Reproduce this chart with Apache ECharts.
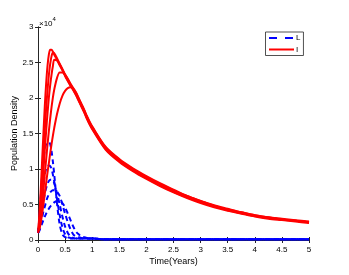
<!DOCTYPE html>
<html>
<head>
<meta charset="utf-8">
<script src="https://cdn.jsdelivr.net/npm/echarts@6/dist/echarts.min.js"></script>
<style>
html,body{margin:0;padding:0;background:#fff;}
#c{width:349px;height:275px;}
</style>
</head>
<body>
<div id="c"></div>
<script>
// Time samples (years)
const times = [0,0.025,0.05,0.075,0.1,0.125,0.15,0.175,0.2,0.225,0.25,0.275,0.3,
  0.35,0.4,0.45,0.5,0.55,0.6,0.65,0.7,0.75,0.8,0.85,0.9,0.95,1.0,
  1.25,1.5,1.75,2.0,2.25,2.5,2.75,3.0,3.25,3.5,3.75,4.0,4.25,4.5,4.75,5.0];

// Population density, in units of 10^4 (the axis carries the x10^4 factor)
const I1 = [0.10,0.35,0.70,1.10,1.50,1.88,2.20,2.45,2.61,2.68,2.68,2.65,2.61,
  2.54,2.46,2.39,2.31,2.24,2.17,2.11,2.04,1.96,1.88,1.80,1.71,1.63,1.56,
  1.27,1.10,0.97,0.86,0.76,0.67,0.59,0.52,0.46,0.41,0.37,0.33,0.30,0.28,0.26,0.24];
const I2 = [0.10,0.28,0.55,0.88,1.22,1.55,1.85,2.10,2.32,2.48,2.59,2.64,2.63,
  2.56,2.48,2.40,2.32,2.25,2.18,2.12,2.05,1.97,1.89,1.81,1.72,1.64,1.57,
  1.28,1.11,0.98,0.87,0.77,0.68,0.60,0.53,0.47,0.42,0.38,0.34,0.31,0.29,0.27,0.25];
const I3 = [0.10,0.22,0.42,0.68,0.97,1.26,1.53,1.78,2.00,2.18,2.33,2.45,2.54,
  2.53,2.48,2.41,2.33,2.26,2.19,2.13,2.06,1.98,1.90,1.82,1.73,1.65,1.58,
  1.29,1.12,0.99,0.88,0.78,0.69,0.61,0.54,0.48,0.43,0.38,0.34,0.31,0.29,0.27,0.25];
const I4 = [0.10,0.18,0.32,0.50,0.70,0.92,1.13,1.34,1.53,1.71,1.87,2.01,2.12,
  2.28,2.36,2.36,2.33,2.27,2.20,2.14,2.07,1.99,1.91,1.83,1.74,1.66,1.59,
  1.30,1.13,1.00,0.89,0.79,0.70,0.62,0.55,0.48,0.43,0.39,0.35,0.32,0.29,0.27,0.25];
const I5 = [0.10,0.15,0.24,0.36,0.50,0.65,0.80,0.95,1.08,1.22,1.35,1.47,1.58,
  1.77,1.92,2.03,2.10,2.14,2.15,2.13,2.08,2.00,1.92,1.84,1.75,1.67,1.60,
  1.31,1.14,1.01,0.90,0.80,0.71,0.62,0.55,0.49,0.44,0.39,0.35,0.32,0.30,0.28,0.26];

const L1 = [0.10,0.30,0.60,0.90,1.12,1.27,1.35,1.37,1.38,1.35,1.25,1.10,0.92,
  0.52,0.22,0.08,0.04,0.03,0.02,0.02,0.02,0.02,0.02,0.02,0.02,0.02,0.02,
  0.01,0.01,0.01,0.01,0.01,0.01,0.01,0.01,0.01,0.01,0.01,0.01,0.01,0.01,0.01,0.01];
const L2 = [0.10,0.22,0.40,0.60,0.78,0.92,1.00,1.04,1.05,1.04,1.00,0.92,0.82,
  0.58,0.35,0.18,0.08,0.04,0.03,0.02,0.02,0.02,0.02,0.02,0.02,0.02,0.02,
  0.01,0.01,0.01,0.01,0.01,0.01,0.01,0.01,0.01,0.01,0.01,0.01,0.01,0.01,0.01,0.01];
const L3 = [0.10,0.18,0.30,0.42,0.55,0.65,0.73,0.79,0.83,0.85,0.85,0.84,0.80,
  0.66,0.50,0.33,0.19,0.10,0.05,0.03,0.02,0.02,0.02,0.02,0.02,0.02,0.02,
  0.01,0.01,0.01,0.01,0.01,0.01,0.01,0.01,0.01,0.01,0.01,0.01,0.01,0.01,0.01,0.01];
const L4 = [0.10,0.15,0.23,0.31,0.40,0.47,0.54,0.60,0.64,0.67,0.69,0.70,0.70,
  0.68,0.62,0.50,0.37,0.25,0.15,0.08,0.05,0.04,0.03,0.02,0.02,0.02,0.02,
  0.01,0.01,0.01,0.01,0.01,0.01,0.01,0.01,0.01,0.01,0.01,0.01,0.01,0.01,0.01,0.01];
const L5 = [0.10,0.13,0.18,0.23,0.28,0.33,0.37,0.41,0.44,0.47,0.49,0.51,0.53,
  0.55,0.55,0.52,0.46,0.37,0.28,0.19,0.12,0.08,0.05,0.04,0.03,0.02,0.02,
  0.01,0.01,0.01,0.01,0.01,0.01,0.01,0.01,0.01,0.01,0.01,0.01,0.01,0.01,0.01,0.01];

const xTicks = [0, 0.5, 1, 1.5, 2, 2.5, 3, 3.5, 4, 4.5, 5];
const yTicks = [0, 0.5, 1, 1.5, 2, 2.5, 3];

const Ls = [L1, L2, L3, L4, L5];
const Is = [I1, I2, I3, I4, I5];

const pairs = v => times.map((t, i) => [t, v[i]]);
const series = [];
for (let k = 0; k < 5; k++) {
  series.push({
    name: 'L', type: 'line', data: pairs(Ls[k]), showSymbol: false, symbol: 'none',
    smooth: 0.3, silent: true,
    lineStyle: { color: '#0000ff', width: 2, type: [5, 3.5] },
    itemStyle: { color: '#0000ff' }
  });
  series.push({
    name: 'I', type: 'line', data: pairs(Is[k]), showSymbol: false, symbol: 'none',
    smooth: 0.3, silent: true,
    lineStyle: { color: '#ff0000', width: 2 },
    itemStyle: { color: '#ff0000' }
  });
}

const axCol = '#262626';
const font = 'Liberation Sans, Arial, Helvetica, sans-serif';
const chart = echarts.init(document.getElementById('c'), null, { renderer: 'canvas' });
chart.setOption({
  animation: false,
  backgroundColor: '#ffffff',
  grid: { left: 38, top: 27, right: 40, bottom: 35, containLabel: false, outerBoundsMode: 'none' },
  legend: {
    data: [
      { name: 'L', lineStyle: { color: '#0000ff', width: 2, type: [8, 8] } },
      { name: 'I', lineStyle: { color: '#ff0000', width: 2, type: 'solid' } }
    ],
    itemStyle: { opacity: 0 },
    orient: 'vertical', left: 265.5, top: 32,
    itemWidth: 25, itemHeight: 8, itemGap: 1.5,
    padding: [1, 3, 1, 2.5], borderColor: '#262626', borderWidth: 0.8,
    backgroundColor: '#fff', selectedMode: false,
    textStyle: { fontSize: 8, lineHeight: 10, color: '#000', fontFamily: font, padding: [0, 0, 0, -3] }
  },
  xAxis: [{
    type: 'value', min: 0, max: 5, interval: 0.5,
    name: 'Time(Years)', nameLocation: 'middle', nameGap: 17.5, nameMoveOverlap: false,
    nameTextStyle: { fontSize: 9, color: '#000', fontFamily: font },
    axisLine: { lineStyle: { color: axCol, width: 1 } },
    axisTick: { inside: true, length: 3, lineStyle: { color: axCol } },
    axisLabel: { fontSize: 8, color: '#000', fontFamily: font, margin: 6,
      formatter: v => String(xTicks.find(t => Math.abs(t - v) < 1e-9) ?? v) },
    splitLine: { show: false }
  }, {
    type: 'value', min: 0, max: 5, interval: 0.5, position: 'top',
    axisLine: { show: true, lineStyle: { color: axCol, width: 1 } },
    axisTick: { inside: true, length: 3, lineStyle: { color: axCol } },
    axisLabel: { show: false }, splitLine: { show: false }
  }],
  yAxis: [{
    type: 'value', min: 0, max: 3, interval: 0.5,
    name: 'Population Density', nameLocation: 'middle', nameGap: 19, nameMoveOverlap: false,
    nameTextStyle: { fontSize: 9, color: '#000', fontFamily: font },
    axisLine: { show: true, lineStyle: { color: axCol, width: 1 } },
    axisTick: { show: true, inside: true, length: 3, lineStyle: { color: axCol } },
    axisLabel: { fontSize: 8, color: '#000', fontFamily: font, margin: 4.5,
      formatter: v => String(yTicks.find(t => Math.abs(t - v) < 1e-9) ?? v) },
    splitLine: { show: false }
  }, {
    type: 'value', min: 0, max: 3, interval: 0.5, position: 'right',
    axisLine: { show: true, lineStyle: { color: axCol, width: 1 } },
    axisTick: { show: true, inside: true, length: 3, lineStyle: { color: axCol } },
    axisLabel: { show: false }, splitLine: { show: false }
  }],
  graphic: [{
    type: 'text', left: 39, top: 16,
    style: {
      text: '{a|×10}{b|4}',
      rich: {
        a: { fontSize: 8, fill: '#000', fontFamily: font, padding: [4, 0, 0, 0] },
        b: { fontSize: 6, fill: '#000', fontFamily: font, verticalAlign: 'top' }
      }
    }
  }],
  series: series
});
</script>
</body>
</html>
